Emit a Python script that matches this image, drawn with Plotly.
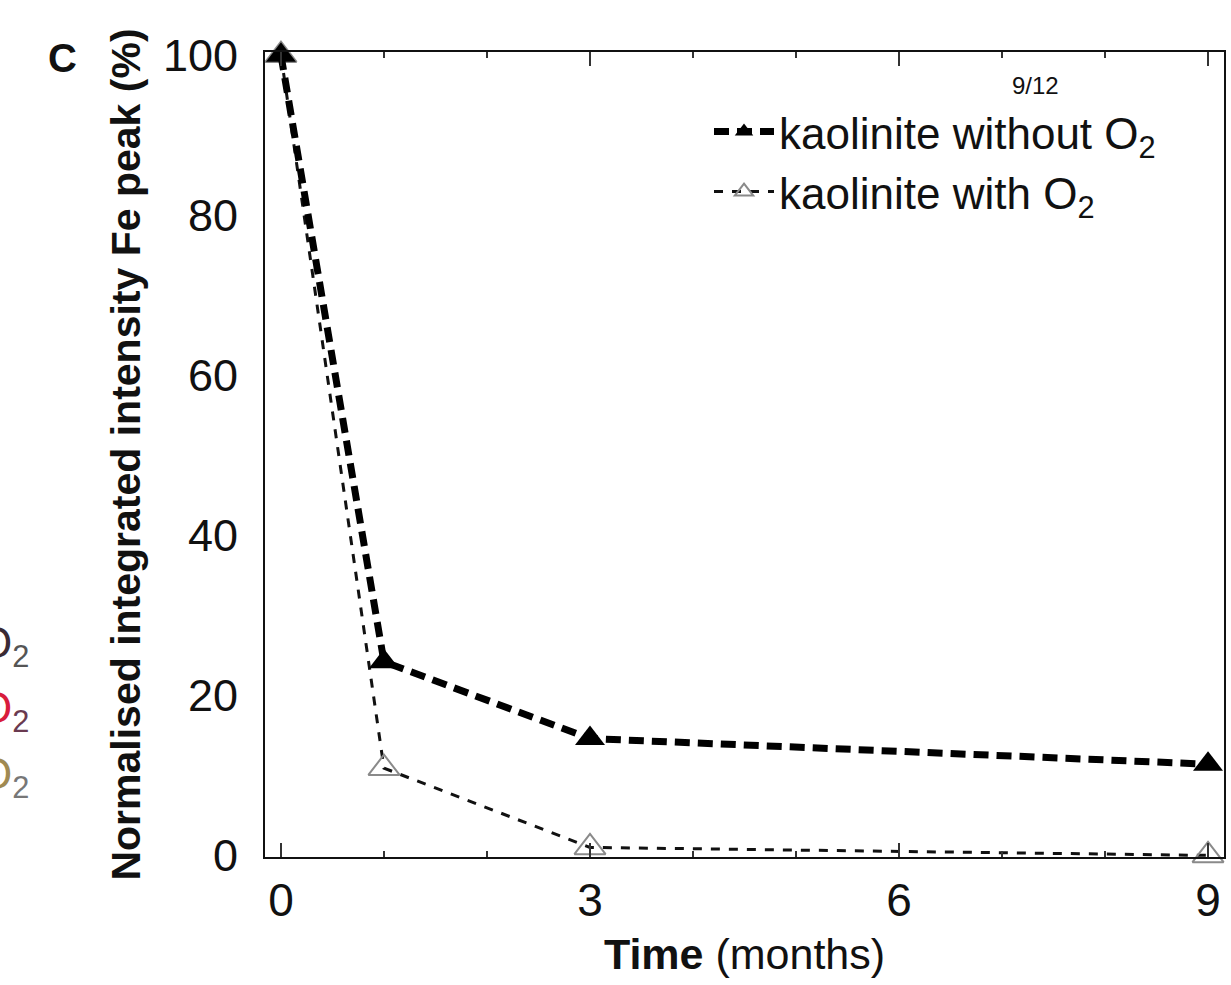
import plotly.graph_objects as go

time_months = [0, 1, 3, 9]
without_o2 = [100, 24.2, 14.6, 11.4]
with_o2 = [100, 10.9, 1.0, 0.0]
x_ticks = [0, 3, 6, 9]
y_ticks = [0, 20, 40, 60, 80, 100]

FONT = "Liberation Sans, Arial, sans-serif"

fig = go.Figure()
fig.add_trace(go.Scatter(
    x=time_months, y=with_o2, mode="lines+markers",
    name="kaolinite with O<sub>2</sub>",
    line=dict(color="#111111", width=3, dash="9px,9px"),
    marker=dict(symbol="triangle-up-open", size=27, color="#8a8a8a",
                line=dict(color="#8a8a8a", width=2)),
    cliponaxis=False,
))
fig.add_trace(go.Scatter(
    x=time_months, y=without_o2, mode="lines+markers",
    name="kaolinite without O<sub>2</sub>",
    line=dict(color="#000000", width=7, dash="15px,8px"),
    marker=dict(symbol="triangle-up", size=26, color="#000000"),
    cliponaxis=False,
))

fig.update_layout(
    width=1231, height=985,
    margin=dict(l=265, r=5, t=52, b=128),
    paper_bgcolor="white", plot_bgcolor="white",
    font=dict(family=FONT, color="#111111"),
    showlegend=True,
    legend=dict(x=0.463, y=0.945, xanchor="left", yanchor="top",
                bgcolor="rgba(0,0,0,0)", traceorder="reversed",
                font=dict(size=44, family=FONT, color="#111111"),
                itemwidth=60, tracegroupgap=0),
    xaxis=dict(range=[-0.155, 9.155], tickvals=x_ticks, ticktext=[str(v) for v in x_ticks],
               showgrid=False, zeroline=False, showline=True, linecolor="#111111", linewidth=2,
               mirror="ticks", ticks="inside", ticklen=14, tickwidth=1.5, tickcolor="#333333",
               minor=dict(dtick=1, ticks="inside", ticklen=6, tickwidth=1.5, tickcolor="#333333"),
               tickfont=dict(size=46, family=FONT, color="#111111"), ticklabelstandoff=2,
               title=dict(text="<b>Time</b> (months)", font=dict(size=43, family=FONT, color="#111111"),
                          standoff=14)),
    yaxis=dict(range=[-0.2, 100.4], tickvals=y_ticks, ticktext=[str(v) for v in y_ticks],
               showgrid=False, zeroline=False, showline=True, linecolor="#111111", linewidth=2,
               mirror=True, ticks="", tickfont=dict(size=45, family=FONT, color="#111111"),
               ticklabelstandoff=16,
               title=dict(text="<b>Normalised integrated intensity Fe peak (%)</b>",
                          font=dict(size=41, family=FONT, color="#111111"), standoff=10)),
)

frag = [("#3a2a34", "#555555", 0.262), ("#d81c3c", "#6a3a50", 0.181), ("#a08a52", "#777777", 0.099)]
annotations = [
    dict(text="<b>C</b>", x=-0.211, y=0.993, xanchor="center", font=dict(size=40, color="#111111")),
    dict(text="9/12", x=0.803, y=0.958, xanchor="center", font=dict(size=24, color="#111111")),
]
for c_o, c_2, yy in frag:
    annotations.append(dict(
        text=f"<span style='color:{c_o}'>O</span><sub><span style='color:{c_2}'>2</span></sub>",
        x=-0.244, y=yy, xanchor="right", font=dict(size=44, color=c_o)))
for a in annotations:
    fig.add_annotation(xref="paper", yref="paper", showarrow=False, yanchor="middle",
                       font_family=FONT, **a)

fig.write_html("out.html")
